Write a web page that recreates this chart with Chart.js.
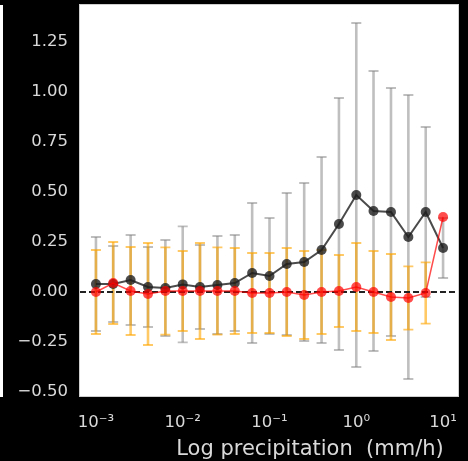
<!DOCTYPE html>
<html>
<head>
<meta charset="utf-8">
<script src="https://cdn.jsdelivr.net/npm/chart.js@4/dist/chart.umd.min.js"></script>
<style>
  html, body { margin: 0; padding: 0; background: #000; }
  #wrap { width: 468px; height: 461px; position: relative; }
</style>
</head>
<body>
<div id="wrap"><canvas id="myChart" width="468" height="461"></canvas></div>
<script>
// precipitation bins (mm/h), log spaced
const precip = [0.001, 0.00158, 0.00251, 0.00398, 0.00631, 0.01, 0.0158, 0.0251, 0.0398, 0.0631,
                0.1, 0.158, 0.251, 0.398, 0.631, 1, 1.58, 2.51, 3.98, 6.31, 10];

// black series: mean and error
const blackMean = [0.04, 0.04, 0.06, 0.025, 0.02, 0.038, 0.025, 0.035, 0.045, 0.095,
                   0.08, 0.14, 0.15, 0.21, 0.34, 0.485, 0.405, 0.40, 0.275, 0.40, 0.22];
const blackErr  = [0.235, 0.19, 0.225, 0.20, 0.24, 0.29, 0.21, 0.245, 0.24, 0.35,
                   0.29, 0.355, 0.395, 0.465, 0.63, 0.86, 0.70, 0.62, 0.71, 0.425, 0.15];

// red series: mean and error
const redMean = [0.0, 0.045, 0.005, -0.01, 0.005, 0.005, 0.005, 0.005, 0.005, -0.005,
                 -0.005, 0.0, -0.015, 0.0, 0.005, 0.025, 0.0, -0.025, -0.03, -0.005, 0.375];
const redErr  = [0.21, 0.205, 0.22, 0.255, 0.218, 0.2, 0.24, 0.218, 0.215, 0.2,
                 0.2, 0.22, 0.22, 0.21, 0.18, 0.22, 0.205, 0.215, 0.158, 0.153, null];

const xTicks = [0.001, 0.01, 0.1, 1, 10];
const xTickLabels = ['10⁻³', '10⁻²', '10⁻¹', '10⁰', '10¹'];
const yTicks = [-0.5, -0.25, 0, 0.25, 0.5, 0.75, 1.0, 1.25];
const yTickLabels = ['−0.50', '−0.25', '0.00', '0.25', '0.50', '0.75', '1.00', '1.25'];

const textColor = '#d9d9d9';
const fontFamily = "'DejaVu Sans', sans-serif";

const errorBars = {
    id: 'errorBars',
    beforeDraw(chart) {
        const c = chart.ctx, a = chart.chartArea;
        c.save();
        c.fillStyle = '#fff';
        c.fillRect(a.left, a.top, a.right - a.left, a.bottom - a.top);
        // edge of neighbouring panel
        c.fillRect(0, a.top, 3, a.bottom - a.top + 1);
        c.restore();
    },
    beforeDatasetsDraw(chart) {
        const c = chart.ctx, a = chart.chartArea;
        const xs = chart.scales.x, ys = chart.scales.y;
        c.save();
        c.beginPath();
        c.rect(a.left, a.top, a.right - a.left, a.bottom - a.top);
        c.clip();
        const drawSet = (mean, err, color) => {
            c.strokeStyle = color;
            for (let i = 0; i < precip.length; i++) {
                if (err[i] == null) continue;
                const px = xs.getPixelForValue(precip[i]);
                const top = ys.getPixelForValue(mean[i] + err[i]);
                const bot = ys.getPixelForValue(mean[i] - err[i]);
                c.lineWidth = 2.6;
                c.beginPath();
                c.moveTo(px, top);
                c.lineTo(px, bot);
                c.stroke();
                c.lineWidth = 1.8;
                c.beginPath();
                c.moveTo(px - 5, top); c.lineTo(px + 5, top);
                c.moveTo(px - 5, bot); c.lineTo(px + 5, bot);
                c.stroke();
            }
        };
        drawSet(blackMean, blackErr, 'rgba(128,128,128,0.5)');
        drawSet(redMean, redErr, 'rgba(255,165,0,0.6)');
        // zero line
        const y0 = ys.getPixelForValue(0);
        c.strokeStyle = '#222';
        c.lineWidth = 2;
        c.setLineDash([6, 3]);
        c.beginPath();
        c.moveTo(a.left, y0);
        c.lineTo(a.right, y0);
        c.stroke();
        c.restore();
    },
    afterDraw(chart) {
        const c = chart.ctx, a = chart.chartArea;
        c.save();
        c.strokeStyle = '#cfcfcf';
        c.lineWidth = 1;
        c.strokeRect(a.left - 0.5, a.top - 0.5, a.right - a.left + 1, a.bottom - a.top + 1);
        c.fillStyle = textColor;
        c.font = "21px " + fontFamily;
        c.textAlign = 'center';
        c.textBaseline = 'alphabetic';
        c.fillText('Log precipitation  (mm/h)', 310, 455);
        c.restore();
    }
};

const ctx = document.getElementById('myChart');
const myChart = new Chart(ctx, {
    type: 'scatter',
    data: {
        datasets: [{
            label: 'red',
            data: precip.map((p, i) => ({x: p, y: redMean[i]})),
            showLine: true,
            borderColor: 'rgba(255,0,0,0.7)',
            borderWidth: 1.5,
            backgroundColor: 'rgba(255,0,0,0.7)',
            pointBorderWidth: 0,
            pointRadius: 5,
            order: 0
        }, {
            label: 'black',
            data: precip.map((p, i) => ({x: p, y: blackMean[i]})),
            showLine: true,
            borderColor: 'rgba(30,30,30,0.8)',
            borderWidth: 2,
            backgroundColor: 'rgba(30,30,30,0.8)',
            pointBorderWidth: 0,
            pointRadius: 5,
            order: 1
        }]
    },
    options: {
        responsive: false,
        animation: false,
        devicePixelRatio: 1,
        layout: { padding: { left: 0, right: 10, top: 5, bottom: 0 } },
        plugins: {
            legend: { display: false },
            tooltip: { enabled: false }
        },
        scales: {
            x: {
                type: 'logarithmic',
                min: 0.000655,
                max: 14.86,
                grid: { display: false, drawTicks: false },
                border: { display: false },
                afterFit: (s) => { s.height = 65; s.paddingLeft = 0; s.paddingRight = 0; },
                afterBuildTicks: (s) => { s.ticks = xTicks.map(v => ({value: v})); },
                ticks: {
                    autoSkip: false,
                    maxRotation: 0,
                    padding: 17,
                    color: textColor,
                    font: { family: fontFamily, size: 16.5 },
                    callback: (v, i) => xTickLabels[i]
                }
            },
            y: {
                min: -0.52,
                max: 1.435,
                grid: { display: false, drawTicks: false },
                border: { display: false },
                afterFit: (s) => { s.width = 80; s.paddingTop = 0; s.paddingBottom = 0; },
                afterBuildTicks: (s) => { s.ticks = yTicks.map(v => ({value: v})); },
                ticks: {
                    padding: 12,
                    color: textColor,
                    font: { family: fontFamily, size: 16.5 },
                    callback: (v, i) => yTickLabels[i]
                }
            }
        }
    },
    plugins: [errorBars]
});
</script>
</body>
</html>
